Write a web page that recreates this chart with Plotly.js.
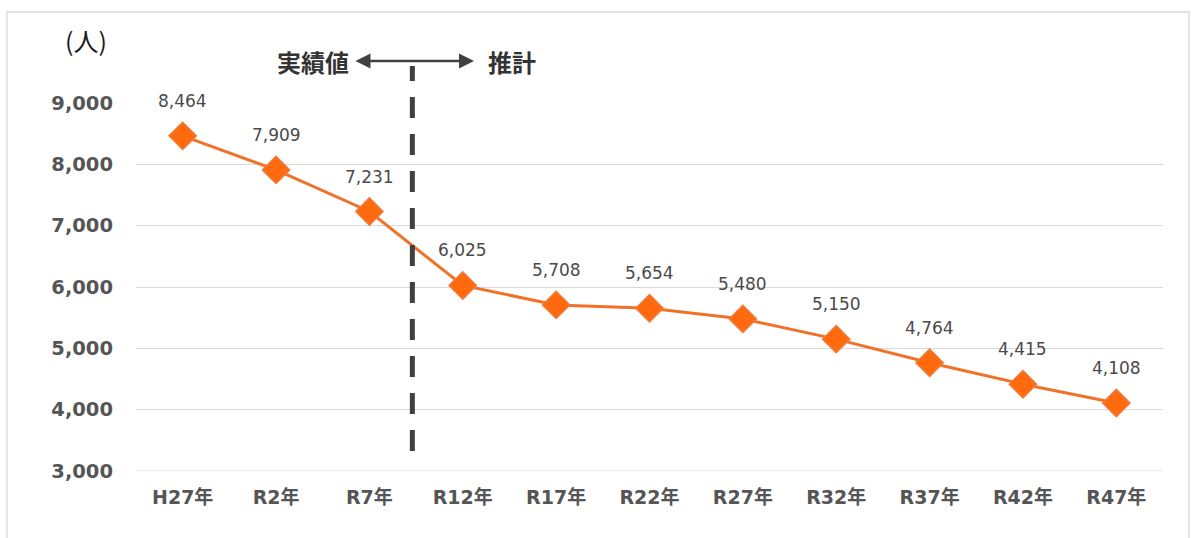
<!DOCTYPE html>
<html>
<head>
<meta charset="utf-8">
<script src="https://cdn.plot.ly/plotly-3.0.1.min.js"></script>
<style>html,body{margin:0;padding:0;background:#fff;}#chart{width:1196px;height:538px;}</style>
</head>
<body>
<div id="chart"></div>
<script>
const categories = ["H27年","R2年","R7年","R12年","R17年","R22年","R27年","R32年","R37年","R42年","R47年"];
const population = [8464, 7909, 7231, 6025, 5708, 5654, 5480, 5150, 4764, 4415, 4108];
const yTicks = [3000, 4000, 5000, 6000, 7000, 8000, 9000];
const yTickLabels = ["3,000","4,000","5,000","6,000","7,000","8,000","9,000"];

const cjk = '"Noto Sans CJK JP", sans-serif';
const numFont = '"DejaVu Sans", "Noto Sans CJK JP", sans-serif';
const xIdx = categories.map((c, i) => i);

const trace = {
  x: xIdx,
  y: population,
  type: 'scatter',
  mode: 'lines+markers',
  line: {color: '#F07228', width: 3},
  marker: {symbol: 'diamond', size: 21, color: '#FF6A0E', line: {color: '#F07A3A', width: 1.5}},
  hoverinfo: 'skip'
};

const labelAnns = population.map((v, i) => ({
  x: i, y: v, xref: 'x', yref: 'y',
  text: v.toLocaleString('en-US'),
  showarrow: false, yshift: 35,
  font: {family: numFont, size: 17, color: '#4a4a4a'}
}));

const px = p => (p - 136) / 1027;
const py = p => (471 - p) / 368;

const layout = {
  width: 1196, height: 538,
  margin: {l: 136, r: 33, t: 103, b: 67},
  paper_bgcolor: '#fff', plot_bgcolor: '#fff',
  showlegend: false,
  xaxis: {
    range: [-0.5, 10.5], tickmode: 'array', tickvals: xIdx, ticktext: categories,
    showgrid: false, zeroline: false, showline: false, ticks: '', ticklabelstandoff: 13,
    tickfont: {family: numFont, size: 19, color: '#555555', weight: 'bold'}
  },
  yaxis: {
    range: [3000, 9000], tickmode: 'array', tickvals: yTicks, ticktext: yTickLabels,
    showgrid: true, gridcolor: '#D9D9D9', gridwidth: 1, zeroline: false, showline: false,
    ticks: '', ticklabelstandoff: 22,
    tickfont: {family: numFont, size: 19.5, color: '#555555', weight: 'bold'}
  },
  shapes: [
    {type: 'rect', xref: 'paper', yref: 'paper', x0: px(7), x1: px(1189), y0: py(545), y1: py(12),
     line: {color: '#D9D9D9', width: 1.3}, layer: 'below'},
    {type: 'line', xref: 'paper', yref: 'y', x0: 0, x1: 1, y0: 3000, y1: 3000,
     line: {color: '#D9D9D9', width: 1}, layer: 'below'},
    {type: 'line', xref: 'x', yref: 'paper', x0: 2.46, x1: 2.46, y0: py(451), y1: py(66),
     line: {color: '#404040', width: 5, dash: '21px,16px'}}
  ],
  annotations: labelAnns.concat([
    {xref: 'paper', yref: 'paper', x: px(86), y: py(40), xanchor: 'center', yanchor: 'middle', text: '(人)', showarrow: false,
     font: {family: cjk, size: 25, color: '#1a1a1a'}},
    {xref: 'paper', yref: 'paper', x: px(351), y: py(61), xanchor: 'right', yanchor: 'middle', text: '実績値', showarrow: false,
     font: {family: cjk, size: 24, color: '#333333', weight: 'bold'}},
    {xref: 'paper', yref: 'paper', x: px(486), y: py(61), xanchor: 'left', yanchor: 'middle', text: '推計', showarrow: false,
     font: {family: cjk, size: 24, color: '#333333', weight: 'bold'}},
    {xref: 'paper', yref: 'paper', x: px(474), y: py(61), ax: -120, ay: 0, text: '',
     showarrow: true, arrowside: 'end+start', arrowhead: 2, arrowsize: 1.2, arrowwidth: 2.5,
     arrowcolor: '#404040', standoff: 0, startstandoff: 0}
  ])
};

Plotly.newPlot('chart', [trace], layout, {displayModeBar: false, staticPlot: true});
</script>
</body>
</html>
